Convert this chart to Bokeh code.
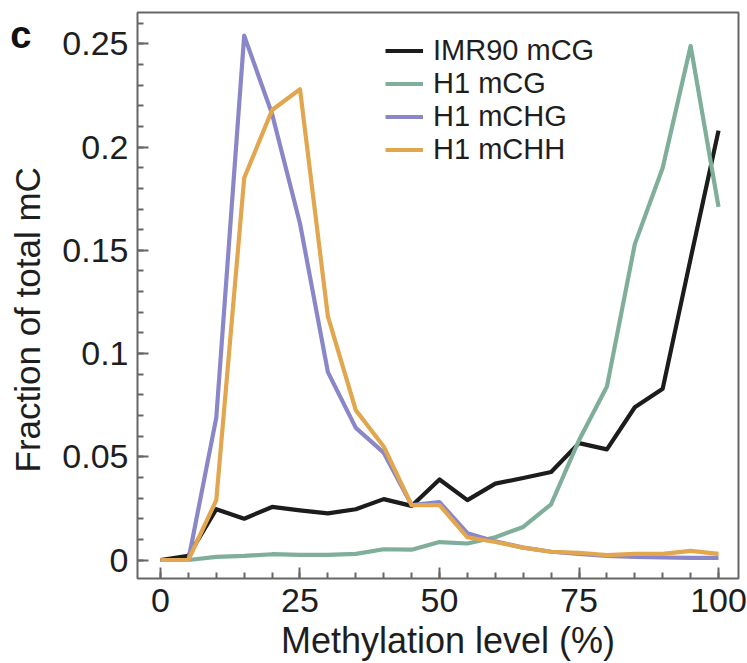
from bokeh.plotting import figure
from bokeh.models import Legend, LegendItem, FixedTicker, LinearAxis
from bokeh.embed import file_html
from bokeh.resources import INLINE

# ---- data ----
methylation_level = [0, 5, 10, 15, 20, 25, 30, 35, 40, 45, 50,
                     55, 60, 65, 70, 75, 80, 85, 90, 95, 100]
imr90_mcg = [0, 0.002, 0.0246, 0.020, 0.0257, 0.024, 0.0226, 0.0246, 0.0295, 0.0262, 0.039,
             0.029, 0.037, 0.0397, 0.0426, 0.0566, 0.0536, 0.074, 0.083, 0.146, 0.208]
h1_mcg = [0, 0, 0.0015, 0.002, 0.0028, 0.0025, 0.0025, 0.003, 0.0052, 0.005, 0.0087,
          0.008, 0.011, 0.016, 0.027, 0.058, 0.084, 0.153, 0.190, 0.249, 0.171]
h1_mchg = [0, 0, 0.069, 0.254, 0.216, 0.163, 0.091, 0.064, 0.052, 0.0266, 0.028,
           0.013, 0.009, 0.006, 0.004, 0.003, 0.002, 0.0015, 0.0012, 0.001, 0.001]
h1_mchh = [0, 0, 0.029, 0.185, 0.218, 0.228, 0.118, 0.0726, 0.055, 0.0266, 0.0266,
           0.011, 0.0087, 0.006, 0.004, 0.0035, 0.0024, 0.003, 0.003, 0.0044, 0.003]

series_names = ["IMR90 mCG", "H1 mCG", "H1 mCHG", "H1 mCHH"]
series_values = [imr90_mcg, h1_mcg, h1_mchg, h1_mchh]
series_colors = ["#1c1c1c", "#7fae9a", "#8a87c8", "#e2a64f"]

x_ticks = [0, 25, 50, 75, 100]
x_minor_ticks = [0, 5, 10, 15, 20, 25, 30, 35, 40, 45, 50, 55, 60, 65, 70, 75, 80, 85, 90, 95, 100]
y_ticks = [0, 0.05, 0.1, 0.15, 0.2, 0.25]
y_tick_labels = ["0", "0.05", "0.1", "0.15", "0.2", "0.25"]
y_minor_ticks = [round(i * 0.01, 2) for i in range(0, 27)]

panel_letter = "c"
panel_letter_y = 0.2542

X_START, X_END = -4.12, 103.58
Y_START, Y_END = -0.00896, 0.2652

NBSP = "\u00a0"
FONT = "Liberation Sans"
TEXT = "#1e1e1e"
FRAME = "#666666"

p = figure(width=747, height=663, output_backend="svg", toolbar_location=None,
           x_range=(X_START, X_END), y_range=(Y_START, Y_END),
           min_border_left=137, min_border_right=9, min_border_top=12, min_border_bottom=85)
p.background_fill_color = "white"
p.border_fill_color = "white"
p.outline_line_color = FRAME
p.outline_line_width = 2
p.xgrid.visible = False
p.ygrid.visible = False

renderers = []
for vals, col in zip(series_values, series_colors):
    r = p.line(methylation_level, vals, line_color=col, line_width=4.2, line_join="round")
    renderers.append(r)

# axes (ticks point inward, as in the reference)
p.xaxis.ticker = FixedTicker(ticks=x_ticks, minor_ticks=x_minor_ticks)
p.yaxis.ticker = FixedTicker(ticks=y_ticks, minor_ticks=y_minor_ticks)
p.yaxis.major_label_overrides = dict(zip(y_ticks, y_tick_labels))

for ax in (p.xaxis[0], p.yaxis[0]):
    ax.axis_line_color = None
    ax.major_tick_in = 11
    ax.major_tick_out = 0
    ax.minor_tick_in = 6
    ax.minor_tick_out = 0
    ax.major_tick_line_color = FRAME
    ax.minor_tick_line_color = FRAME
    ax.major_tick_line_width = 2
    ax.minor_tick_line_width = 2
    ax.major_label_text_font = FONT
    ax.major_label_text_font_size = "34px"
    ax.major_label_text_color = TEXT
    ax.axis_label_text_font = FONT
    ax.axis_label_text_font_style = "normal"
    ax.axis_label_text_color = TEXT

p.xaxis.axis_label = NBSP * 2 + "Methylation level (%)"
p.yaxis.axis_label = "Fraction of total mC" + NBSP * 5
p.xaxis.axis_label_text_font_size = "36px"
p.yaxis.axis_label_text_font_size = "35px"
p.xaxis.major_label_standoff = 10
p.yaxis.major_label_standoff = 9
p.xaxis.axis_label_standoff = 5
p.yaxis.axis_label_standoff = 12

# outer left axis carrying only the bold panel letter, pulled inward
letter_axis = LinearAxis(ticker=FixedTicker(ticks=[panel_letter_y], minor_ticks=[]),
                         major_label_overrides={panel_letter_y: panel_letter})
letter_axis.axis_line_color = None
letter_axis.major_tick_line_color = None
letter_axis.minor_tick_line_color = None
letter_axis.major_tick_in = 0
letter_axis.major_tick_out = 0
letter_axis.minor_tick_in = 0
letter_axis.minor_tick_out = 0
letter_axis.major_label_standoff = -26
letter_axis.major_label_text_font = FONT
letter_axis.major_label_text_font_style = "bold"
letter_axis.major_label_text_font_size = "38px"
letter_axis.major_label_text_color = "#111111"
p.add_layout(letter_axis, "left")

legend = Legend(items=[LegendItem(label=n, renderers=[r]) for n, r in zip(series_names, renderers)],
                location=(248, 412))
legend.border_line_color = None
legend.background_fill_alpha = 0
legend.padding = 0
legend.margin = 0
legend.spacing = -4
legend.label_height = 31
legend.glyph_height = 31
legend.glyph_width = 38
legend.label_standoff = 10
legend.label_text_font = FONT
legend.label_text_font_size = "29px"
legend.label_text_color = TEXT
legend.label_text_baseline = "middle"
p.add_layout(legend, "center")

open("out.html", "w").write(file_html(p, INLINE))
